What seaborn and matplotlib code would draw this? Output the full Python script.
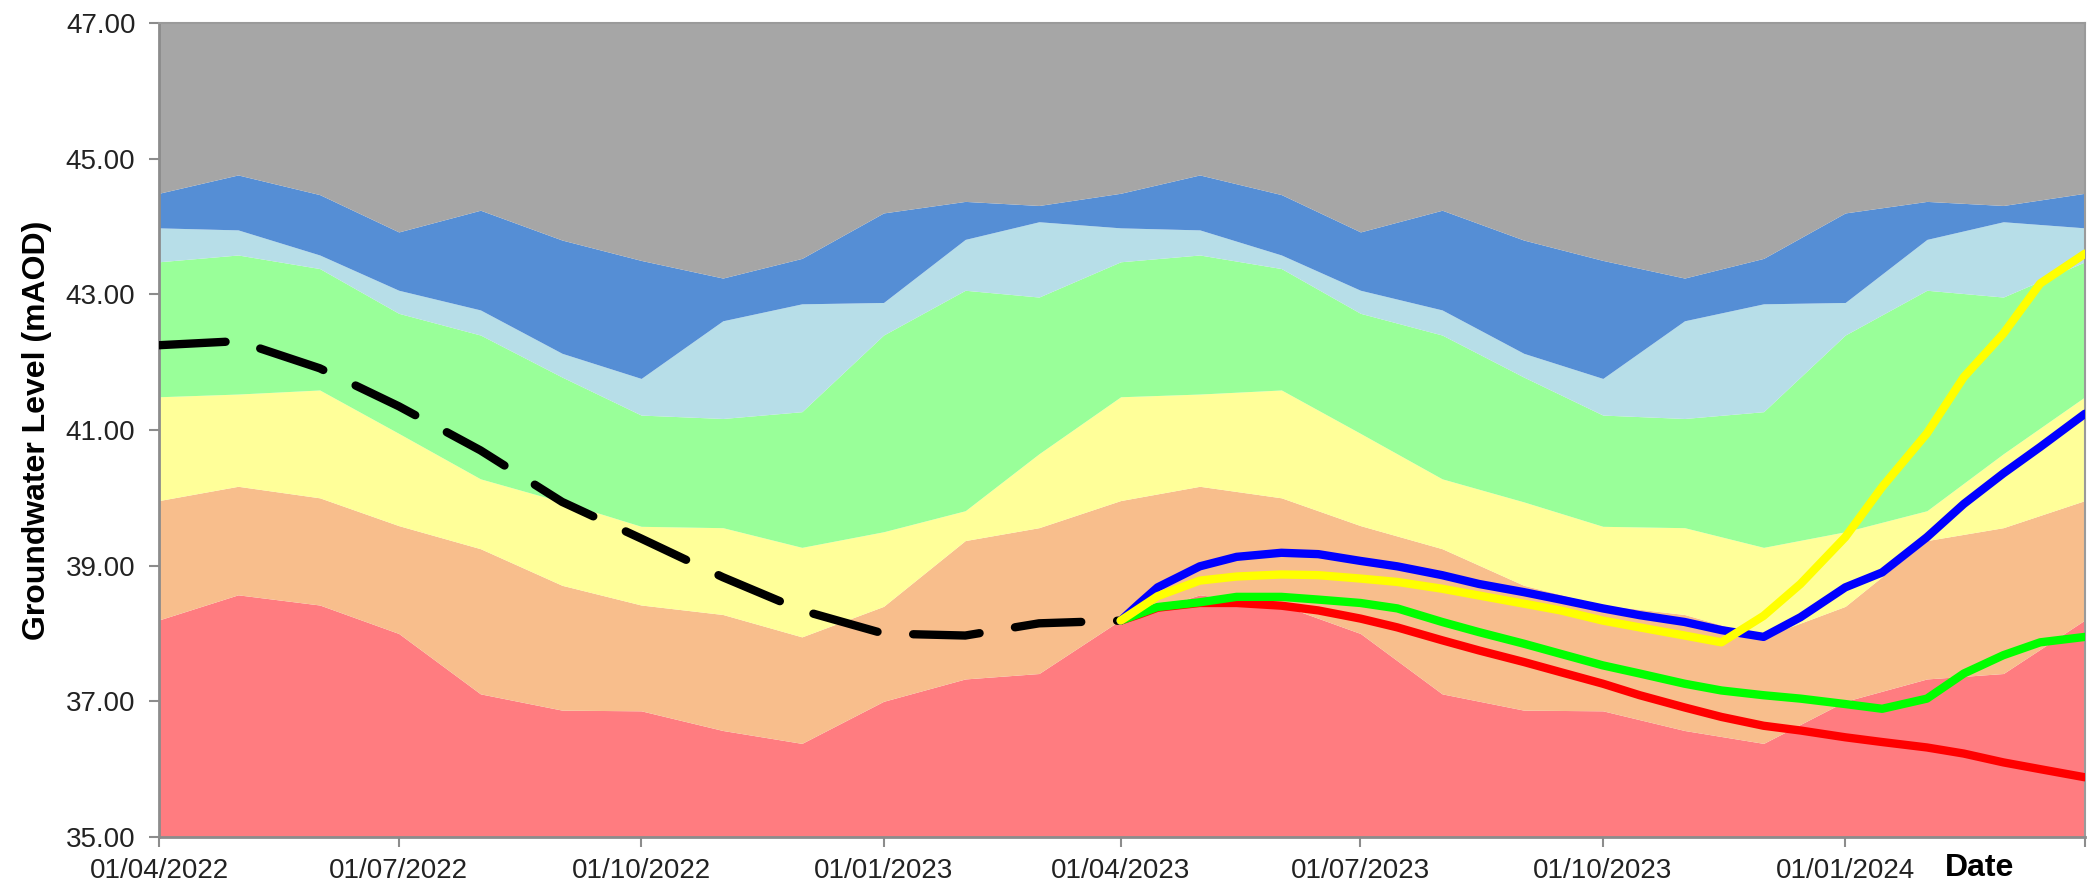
import matplotlib
matplotlib.use("Agg")
import matplotlib.pyplot as plt
import numpy as np
import pandas as pd
import seaborn as sns

# ---------------- data ----------------
band_months = pd.date_range("2022-04-01", "2024-04-01", freq="MS")

red_top = [38.20, 38.57, 38.42, 38.00, 37.11, 36.87, 36.86, 36.57, 36.38, 37.00, 37.33, 37.41,
           38.20, 38.57, 38.42, 38.00, 37.11, 36.87, 36.86, 36.57, 36.38, 37.00, 37.33, 37.41, 38.20]
orange_top = [39.96, 40.17, 40.00, 39.59, 39.25, 38.71, 38.42, 38.28, 37.95, 38.40, 39.37, 39.56,
              39.96, 40.17, 40.00, 39.59, 39.25, 38.71, 38.42, 38.28, 37.95, 38.40, 39.37, 39.56, 39.96]
yellow_top = [41.49, 41.53, 41.59, 40.95, 40.28, 39.94, 39.58, 39.56, 39.27, 39.50, 39.81, 40.65,
              41.49, 41.53, 41.59, 40.95, 40.28, 39.94, 39.58, 39.56, 39.27, 39.50, 39.81, 40.65, 41.49]
green_top = [43.48, 43.58, 43.38, 42.72, 42.40, 41.78, 41.22, 41.17, 41.27, 42.40, 43.06, 42.96,
             43.48, 43.58, 43.38, 42.72, 42.40, 41.78, 41.22, 41.17, 41.27, 42.40, 43.06, 42.96, 43.48]
lightblue_top = [43.98, 43.95, 43.58, 43.06, 42.77, 42.13, 41.76, 42.61, 42.86, 42.88, 43.81, 44.07,
                 43.98, 43.95, 43.58, 43.06, 42.77, 42.13, 41.76, 42.61, 42.86, 42.88, 43.81, 44.07, 43.98]
blue_top = [44.49, 44.76, 44.47, 43.92, 44.24, 43.80, 43.50, 43.24, 43.53, 44.20, 44.37, 44.31,
            44.49, 44.76, 44.47, 43.92, 44.24, 43.80, 43.50, 43.24, 43.53, 44.20, 44.37, 44.31, 44.49]
axis_bottom, axis_top = 35.0, 47.0

observed_dates = pd.date_range("2022-04-01", "2023-04-01", freq="MS")
observed = [42.25, 42.31, 41.91, 41.35, 40.70, 39.94, 39.40, 38.83, 38.34, 38.00, 37.97, 38.15, 38.19]

proj_dates = pd.to_datetime([
    "2023-04-01", "2023-04-08", "2023-04-15", "2023-05-01", "2023-05-15", "2023-06-01", "2023-06-15",
    "2023-07-01", "2023-07-15", "2023-08-01", "2023-08-15", "2023-09-01", "2023-09-15",
    "2023-10-01", "2023-10-15", "2023-11-01", "2023-11-15", "2023-12-01", "2023-12-15",
    "2024-01-01", "2024-01-15", "2024-02-01", "2024-02-15", "2024-03-01", "2024-03-15",
    "2024-04-01"])
proj_blue = [38.19, 38.44, 38.68, 38.99, 39.13, 39.19, 39.17, 39.07, 38.99, 38.86, 38.73, 38.61, 38.50,
             38.37, 38.27, 38.17, 38.05, 37.95, 38.24, 38.68, 38.90, 39.42, 39.91, 40.36, 40.75, 41.24]
proj_yellow = [38.19, 38.37, 38.55, 38.78, 38.84, 38.87, 38.86, 38.81, 38.76, 38.66, 38.56, 38.44, 38.34,
               38.19, 38.09, 37.97, 37.87, 38.26, 38.73, 39.42, 40.16, 40.95, 41.78, 42.42, 43.16, 43.60]
proj_green = [38.19, 38.29, 38.39, 38.46, 38.54, 38.54, 38.50, 38.45, 38.37, 38.17, 38.02, 37.85, 37.70,
              37.53, 37.41, 37.26, 37.16, 37.09, 37.04, 36.96, 36.89, 37.04, 37.41, 37.68, 37.87, 37.95]
proj_red = [38.19, 38.28, 38.38, 38.45, 38.45, 38.41, 38.34, 38.22, 38.09, 37.90, 37.75, 37.58, 37.43,
            37.26, 37.09, 36.91, 36.77, 36.64, 36.57, 36.47, 36.40, 36.32, 36.23, 36.10, 36.00, 35.88]

x_tick_dates = pd.to_datetime(["2022-04-01", "2022-07-01", "2022-10-01", "2023-01-01",
                               "2023-04-01", "2023-07-01", "2023-10-01", "2024-01-01", "2024-04-01"])
x_tick_labels = ["01/04/2022", "01/07/2022", "01/10/2022", "01/01/2023",
                 "01/04/2023", "01/07/2023", "01/10/2023", "01/01/2024", ""]
y_ticks = [35, 37, 39, 41, 43, 45, 47]

# ---------------- style ----------------
sns.set_theme(style="white")
plt.rcParams["font.family"] = ["Liberation Sans", "DejaVu Sans"]

fig = plt.figure(figsize=(21, 8.94), dpi=100)
ax = fig.add_axes([159 / 2100, 1 - 837 / 894, (2085 - 159) / 2100, (837 - 23) / 894])

band_colors = ["#FF7C80", "#F8BE8C", "#FFFF99", "#99FF99", "#B7DEE8", "#558ED5", "#A6A6A6"]
bounds = [[axis_bottom] * len(band_months), red_top, orange_top, yellow_top, green_top,
          lightblue_top, blue_top, [axis_top] * len(band_months)]
for i, col in enumerate(band_colors):
    ax.fill_between(band_months, bounds[i], bounds[i + 1], color=col, linewidth=0, zorder=1)

df_obs = pd.DataFrame({"date": observed_dates, "level": observed})
sns.lineplot(data=df_obs, x="date", y="level", ax=ax, color="black", linewidth=6.0, zorder=5)
ln = ax.lines[-1]
ln.set_dashes([8, 4.3])
ln.set_dash_capstyle("round")
ln.set_dash_joinstyle("round")

for vals, col in [(proj_red, "#FF0000"), (proj_green, "#00FF00"),
                  (proj_blue, "#0000FF"), (proj_yellow, "#FFFF00")]:
    d = pd.DataFrame({"date": proj_dates, "level": vals})
    sns.lineplot(data=d, x="date", y="level", ax=ax, color=col, linewidth=6.0, zorder=6)
    ax.lines[-1].set_solid_capstyle("round")
    ax.lines[-1].set_solid_joinstyle("round")

ax.set_xlim(pd.Timestamp("2022-04-01"), pd.Timestamp("2024-04-01"))
ax.set_ylim(axis_bottom, axis_top)
ax.set_xticks(x_tick_dates)
ax.set_xticklabels(x_tick_labels)
ax.set_yticks(y_ticks)
ax.set_yticklabels([f"{v:.2f}" for v in y_ticks])
ax.tick_params(axis="both", labelsize=20, colors="#8C8C8C", length=7, width=1.5,
               direction="out", bottom=True, left=True)
ax.tick_params(axis="x", pad=8)
ax.tick_params(axis="y", pad=10)
for lab in ax.get_xticklabels() + ax.get_yticklabels():
    lab.set_color("#222222")

for s in ["left", "bottom"]:
    ax.spines[s].set_color("#8C8C8C")
    ax.spines[s].set_linewidth(2.0)
for s in ["top", "right"]:
    ax.spines[s].set_color("#9A9A9A")
    ax.spines[s].set_linewidth(1.5)

ax.set_ylabel("Groundwater Level (mAOD)", fontsize=23, fontweight="bold", color="black")
ax.yaxis.set_label_coords(-0.0555, 0.5)
ax.set_xlabel("Date", fontsize=23, fontweight="bold", color="black", va="center")
ax.xaxis.set_label_coords(0.9455, -0.038)

fig.savefig("out.png", dpi=100)
